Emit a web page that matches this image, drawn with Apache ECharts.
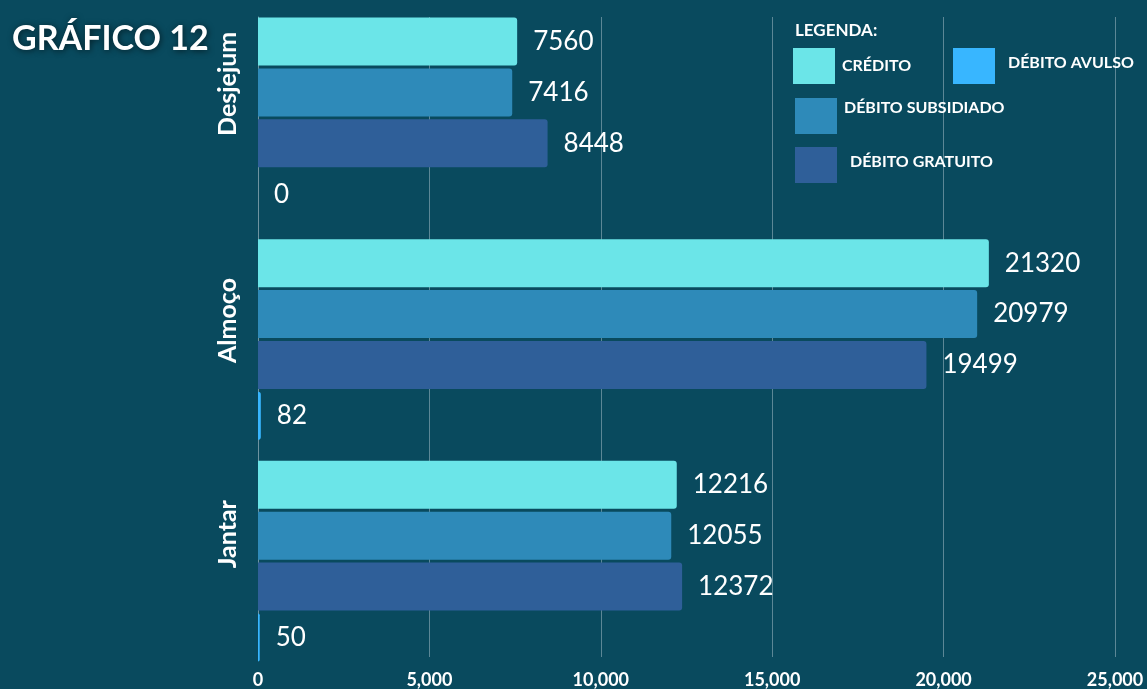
<!DOCTYPE html>
<html>
<head>
<meta charset="utf-8">
<script src="https://cdn.jsdelivr.net/npm/echarts@6/dist/echarts.min.js"></script>
<style>
html,body{margin:0;padding:0;background:#094A5E;}
#main{width:1147px;height:689px;}
</style>
</head>
<body>
<div id="main"></div>
<script>
const categories = ['Desjejum', 'Almoço', 'Jantar'];
const credito = [7560, 21320, 12216];
const debitoSubsidiado = [7416, 20979, 12055];
const debitoGratuito = [8448, 19499, 12372];
const debitoAvulso = [0, 82, 50];
const seriesNames = ['CRÉDITO', 'DÉBITO SUBSIDIADO', 'DÉBITO GRATUITO', 'DÉBITO AVULSO'];
const colors = ['#6BE5E8', '#2E8AB9', '#2F5F99', '#38B6FF'];
const xMin = 0, xMax = 25000, xStep = 5000;

const FONT = 'Lato, "Open Sans", sans-serif';
const chart = echarts.init(document.getElementById('main'));

const labelKeys = {'Desjejum': 'a', 'Almoço': 'b', 'Jantar': 'c'};
const catStyle = (pad) => ({color:'#fff', fontFamily:FONT, fontWeight:'bold', fontSize:25, padding:[0,0,0,pad]});

function barSeries(name, data, color) {
  return {
    name: name, type: 'bar', xAxisIndex: 0, yAxisIndex: 0,
    data: data, barWidth: 48, barGap: '6%',
    itemStyle: {color: color, borderRadius: [0, 3, 3, 0]},
    label: {show: true, position: 'right', distance: 16, color: '#fff',
      fontFamily: FONT, fontSize: 26},
    z: 3
  };
}

function legendItem(name, left, top, pad) {
  return {
    data: [name], left: left, top: top, padding: 0, orient: 'horizontal',
    icon: 'rect', itemWidth: 42, itemHeight: 36, selectedMode: false,
    formatter: '{t|{name}}',
    textStyle: {color: '#fff', fontFamily: FONT, fontWeight: 'bold', fontSize: 16,
      rich: {t: {color: '#fff', fontFamily: FONT, fontWeight: 'bold', fontSize: 16, padding: pad}}}
  };
}

chart.setOption({
  backgroundColor: '#094A5E',
  animation: false,
  title: [
    {text: 'GRÁFICO 12', left: 12, top: 22, padding: 0,
      textStyle: {color: '#fff', fontFamily: FONT, fontWeight: 'bold', fontSize: 34,
        textShadowColor: 'rgba(0,0,0,0.6)', textShadowBlur: 6, textShadowOffsetX: 1, textShadowOffsetY: 1}},
    {text: 'LEGENDA:', left: 795, top: 22, padding: 0,
      textStyle: {color: '#fff', fontFamily: FONT, fontWeight: 'bold', fontSize: 17}}
  ],
  legend: [
    legendItem(seriesNames[0], 793, 48, [0, 0, 0, 2]),
    legendItem(seriesNames[3], 953, 48, [0, 0, 6, 8]),
    legendItem(seriesNames[1], 795, 98, [0, 0, 16, 2]),
    legendItem(seriesNames[2], 795, 147, [0, 0, 6, 8])
  ],
  grid: [
    {left: 258, right: 32, top: 7, bottom: 17},
    {left: 258, right: 32, top: 17, bottom: 28}
  ],
  xAxis: [
    {gridIndex: 0, type: 'value', min: xMin, max: xMax, interval: xStep, show: false},
    {gridIndex: 1, type: 'value', min: xMin, max: xMax, interval: xStep,
      axisLine: {show: false}, axisTick: {show: false},
      splitLine: {show: true, lineStyle: {color: '#5C8796', width: 1}},
      axisLabel: {color: '#fff', fontFamily: FONT, fontWeight: 'bold', fontSize: 18, margin: 14,
        formatter: v => v.toLocaleString('en-US')}}
  ],
  yAxis: [
    {gridIndex: 0, type: 'category', data: categories, inverse: true,
      axisLine: {show: false}, axisTick: {show: false},
      axisLabel: {rotate: 90, margin: 18,
        formatter: v => '{' + labelKeys[v] + '|' + v + '}',
        rich: {a: catStyle(68), b: catStyle(38), c: catStyle(54)}}},
    {gridIndex: 1, type: 'category', data: categories, inverse: true,
      axisLine: {show: true, lineStyle: {color: '#6E93A0', width: 1}},
      axisTick: {show: false}, axisLabel: {show: false}}
  ],
  series: [
    barSeries(seriesNames[0], credito, colors[0]),
    barSeries(seriesNames[1], debitoSubsidiado, colors[1]),
    barSeries(seriesNames[2], debitoGratuito, colors[2]),
    barSeries(seriesNames[3], debitoAvulso, colors[3])
  ]
});
</script>
</body>
</html>
